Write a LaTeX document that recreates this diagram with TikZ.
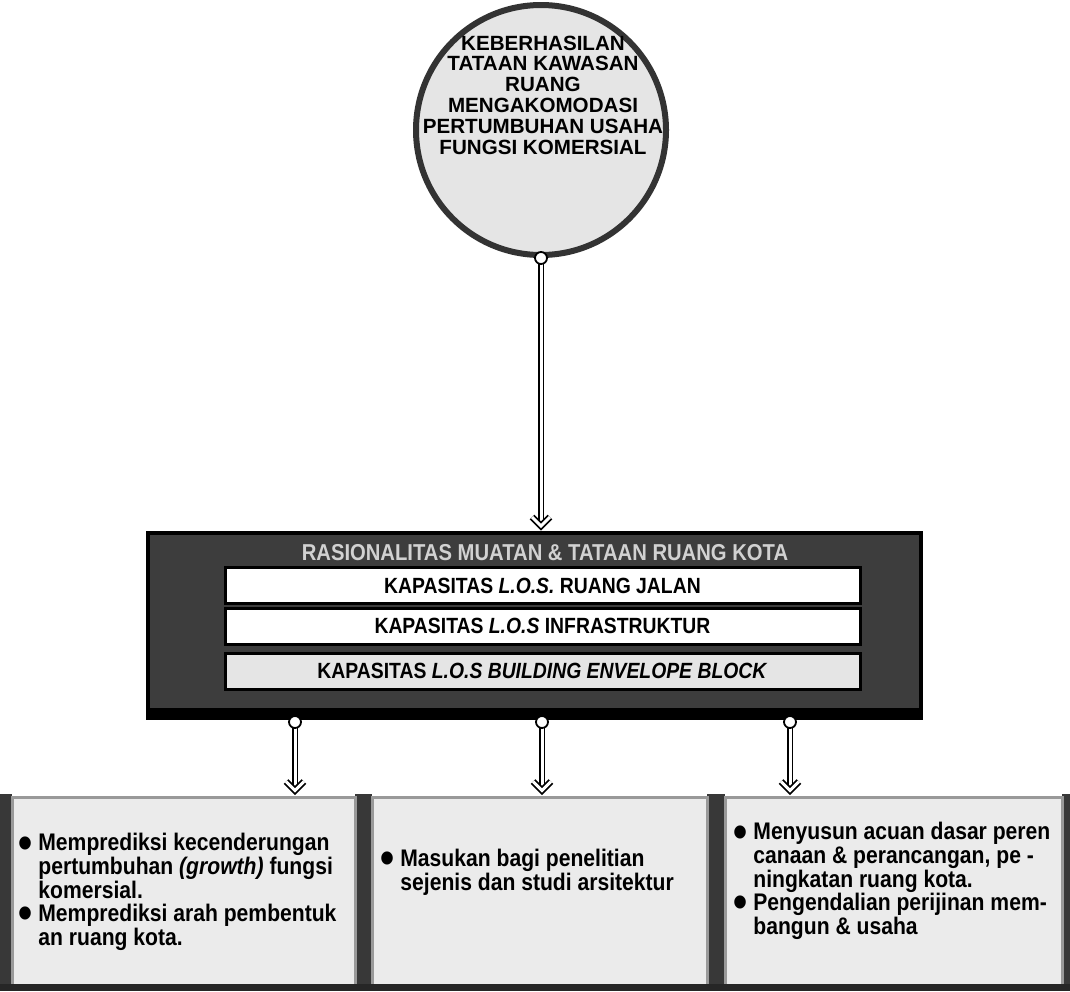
\documentclass[tikz,border=0pt]{standalone}
\usepackage{fontspec}
\setmainfont{Liberation Sans}
\newfontfamily\narrow{Liberation Sans}[FakeStretch=0.88]
\usetikzlibrary{arrows.meta,calc,positioning}

\newcommand{\titik}{\makebox[10pt][l]{\raisebox{-3.6pt}[0pt][0pt]{\scalebox{1.9}{\textbullet}}}}
\newcommand{\lanjut}{\hspace*{10pt}}
% panah garis ganda: dari (#1) ke (#2)
\newcommand{\panah}[2]{%
  \draw[pipe] (#1) -- ([yshift=3pt]#2);
  \draw[pipe,line join=miter] ([xshift=-4.5pt,yshift=7pt]#2) -- ([yshift=2.5pt]#2) -- ([xshift=4.5pt,yshift=7pt]#2);}

\begin{document}
\begin{tikzpicture}[x=0.5pt,y=-0.5pt,
  goal/.style={circle,draw=black!80,line width=3pt,fill=black!10,minimum size=125pt,inner sep=0pt},
  knob/.style={circle,draw,fill=white,line width=0.9pt,minimum size=6pt,inner sep=0pt},
  pipe/.style={double=white,double distance=1.5pt,line width=0.9pt},
  frame/.style={draw=black,line width=2pt,fill=black!76,minimum width=386.5pt,minimum height=92.5pt},
  bar/.style={draw=black,line width=1.5pt,fill=white,minimum width=317.5pt,minimum height=18pt,inner sep=0pt,
    font=\narrow\bfseries\fontsize{11}{12}\selectfont},
  panel/.style={draw=black!40,line width=1.5pt,fill=black!8,minimum height=94pt},
  note/.style={align=left,inner sep=0pt,font=\narrow\bfseries\fontsize{12}{11.8}\selectfont}]
\useasboundingbox (0,0) rectangle (1070,991);

% tujuan
\node[goal] (goal) at (541,130) {};
\node[align=center,inner sep=0pt,font=\bfseries\fontsize{10.3}{10.4}\selectfont] (goaltext) at (543,95)
  {KEBERHASILAN\\TATAAN KAWASAN\\RUANG\\MENGAKOMODASI\\PERTUMBUHAN USAHA\\FUNGSI KOMERSIAL};

% rasionalitas
\node[frame] (rasio) at (534.5,625.5) {};
\fill[black] (rasio.south west) rectangle ([yshift=6pt]rasio.south east);
\node[font=\narrow\bfseries\fontsize{11.5}{12}\selectfont,text=black!18] (judul) at (545,553)
  {RASIONALITAS MUATAN \& TATAAN RUANG KOTA};
\node[bar] (jalan) at (542.5,585.5) {KAPASITAS \textit{L.O.S.} RUANG JALAN};
\node[bar] (infra) at (542.5,626) {KAPASITAS \textit{L.O.S} INFRASTRUKTUR};
\node[bar,fill=black!10] (blok) at (542.5,671) {KAPASITAS \textit{L.O.S BUILDING ENVELOPE BLOCK}};
\coordinate (t0) at (goal.south |- rasio.north);
\panah{goal.south}{t0}
\node[knob] (k0) at (goal.south) {};

% keluaran
\foreach \a/\b in {0/12,355/372,707/725,1062/1070}
  \fill[black!78] (\a,794) rectangle (\b,991);
\node[panel,minimum width=171.5pt] (box1) at (183.5,891) {};
\node[panel,minimum width=167.5pt] (box2) at (539.5,891) {};
\node[panel,minimum width=168.5pt] (box3) at (893.5,891) {};
\fill[black!85] (0,984) rectangle (1070,991);

\foreach \n/\x in {1/295,2/542,3/790}{
  \coordinate (t\n) at (\x,0 |- box\n.north);
  \panah{\x,722}{t\n}
  \node[knob] (k\n) at (\x,722) {};
}

\node[note,anchor=west] (isi1) at (18,892)
  {\titik Memprediksi kecenderungan\\ \lanjut pertumbuhan \textit{(growth)} fungsi\\ \lanjut komersial.\\
   \titik Memprediksi arah pembentuk\\ \lanjut an ruang kota.};
\node[note,anchor=west] (isi2) at (380,872)
  {\titik Masukan bagi penelitian\\ \lanjut sejenis dan studi arsitektur};
\node[note,anchor=west] (isi3) at (733,881)
  {\titik Menyusun acuan dasar peren\\ \lanjut canaan \& perancangan, pe -\\ \lanjut ningkatan ruang kota.\\
   \titik Pengendalian perijinan mem-\\ \lanjut bangun \& usaha};
\end{tikzpicture}
\end{document}
